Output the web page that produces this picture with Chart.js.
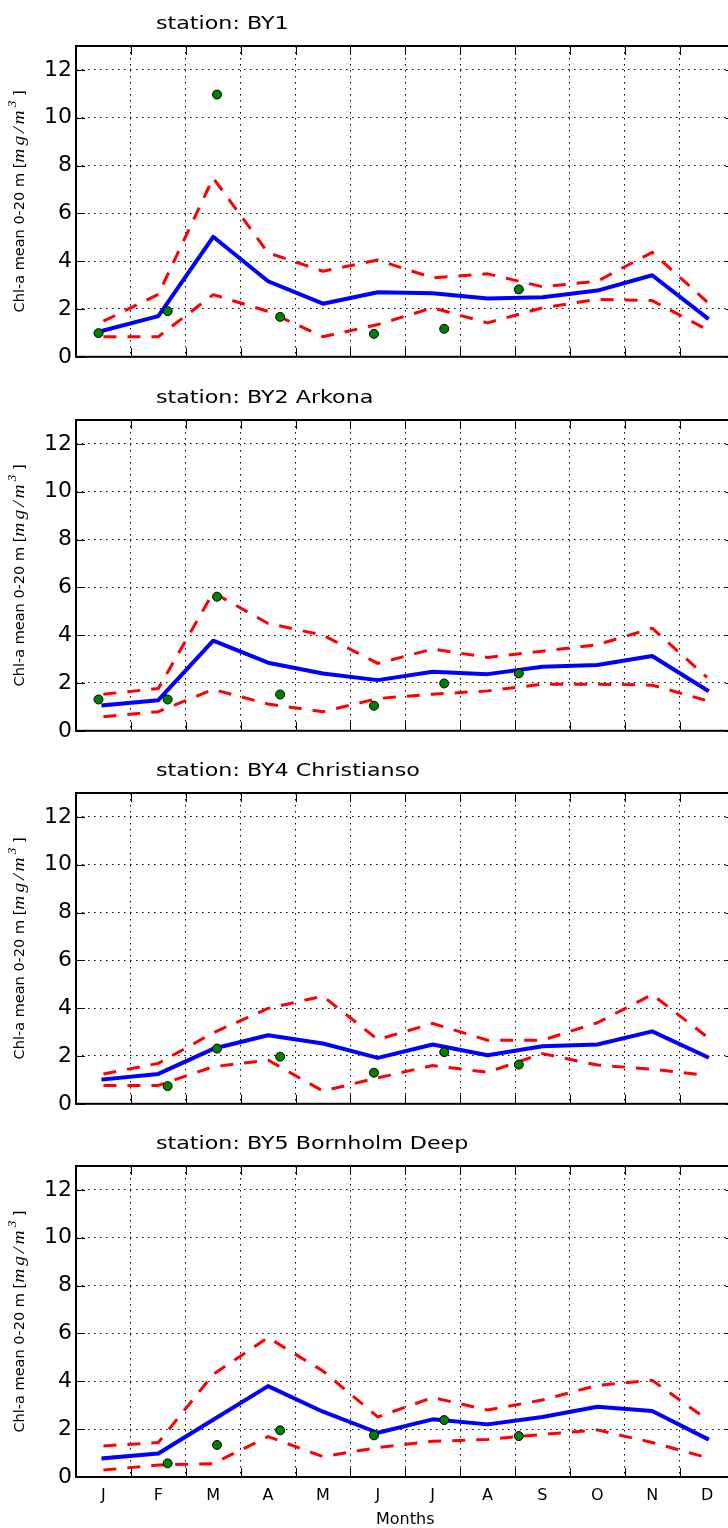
<!DOCTYPE html>
<html>
<head>
<meta charset="utf-8">
<script src="https://cdn.jsdelivr.net/npm/chart.js@4.4.1/dist/chart.umd.min.js"></script>
<style>
  html, body { margin: 0; padding: 0; background: #fff; overflow: hidden; width: 728px; height: 1528px; }
  canvas { position: absolute; left: 0; }
</style>
</head>
<body>
<canvas id="c0" width="740" height="374" style="top:0px"></canvas>
<canvas id="c1" width="740" height="374" style="top:374px"></canvas>
<canvas id="c2" width="740" height="374" style="top:747px"></canvas>
<canvas id="c3" width="740" height="408" style="top:1120px"></canvas>
<script>
// month labels sit in the middle of each month, grid lines on month boundaries
const months = ['J', 'F', 'M', 'A', 'M', 'J', 'J', 'A', 'S', 'O', 'N', 'D'];
const monthPos = [0.5, 1.5, 2.5, 3.5, 4.5, 5.5, 6.5, 7.5, 8.5, 9.5, 10.5, 11.5];
const obsPos = [0.41, 1.67, 2.57, 3.72, 5.43, 6.71, 8.07];
const yTickValues = [0, 2, 4, 6, 8, 10, 12];

const stationTitles = ['station: BY1', 'station: BY2 Arkona', 'station: BY4 Christianso', 'station: BY5 Bornholm Deep'];

// BY1
const by1Mean  = [1.10, 1.70, 5.02, 3.16, 2.22, 2.70, 2.66, 2.44, 2.49, 2.77, 3.41, 1.63];
const by1Upper = [1.49, 2.61, 7.48, 4.35, 3.58, 4.05, 3.30, 3.47, 2.93, 3.16, 4.37, 2.30];
const by1Lower = [0.84, 0.84, 2.60, 1.90, 0.84, 1.35, 2.05, 1.42, 2.05, 2.40, 2.35, 1.14];
const by1Obs   = [0.99, 1.91, 10.97, 1.67, 0.96, 1.17, 2.82];

// BY2 Arkona
const by2Mean  = [1.07, 1.28, 3.77, 2.85, 2.40, 2.12, 2.47, 2.37, 2.68, 2.75, 3.13, 1.70];
const by2Upper = [1.53, 1.77, 5.78, 4.49, 4.00, 2.82, 3.42, 3.07, 3.33, 3.60, 4.29, 2.23];
const by2Lower = [0.59, 0.80, 1.73, 1.12, 0.80, 1.35, 1.53, 1.67, 1.95, 1.95, 1.91, 1.26];
const by2Obs   = [1.31, 1.31, 5.61, 1.52, 1.05, 1.98, 2.40];

// BY4 Christianso
const by4Mean  = [1.02, 1.25, 2.30, 2.87, 2.52, 1.92, 2.48, 2.03, 2.41, 2.48, 3.03, 1.96];
const by4Upper = [1.25, 1.69, 2.97, 3.99, 4.50, 2.69, 3.36, 2.66, 2.66, 3.39, 4.57, 2.80];
const by4Lower = [0.77, 0.77, 1.55, 1.83, 0.53, 1.09, 1.60, 1.32, 2.10, 1.62, 1.45, 1.19];
const by4Obs   = [null, 0.74, 2.31, 1.97, 1.30, 2.16, 1.64];

// BY5 Bornholm Deep
const by5Mean  = [0.78, 0.98, 2.39, 3.80, 2.73, 1.85, 2.41, 2.20, 2.51, 2.94, 2.76, 1.60];
const by5Upper = [1.30, 1.44, 4.29, 5.83, 4.43, 2.51, 3.32, 2.80, 3.22, 3.83, 4.04, 2.41];
const by5Lower = [0.29, 0.50, 0.56, 1.69, 0.85, 1.23, 1.49, 1.57, 1.78, 1.97, 1.44, 0.81];
const by5Obs   = [null, 0.57, 1.34, 1.95, 1.74, 2.38, 1.71];

Chart.defaults.font.family = '"DejaVu Sans", sans-serif';
Chart.defaults.color = '#000';

const tickLen = 9;

// frame, inward ticks, station title and y label (matplotlib look)
const panelDecor = {
    id: 'panelDecor',
    afterDraw(chart, args, opts) {
        const ctx = chart.ctx;
        const a = chart.chartArea;
        const x = chart.scales.x;
        const y = chart.scales.y;

        ctx.save();
        ctx.strokeStyle = '#000';
        ctx.lineWidth = 1;
        ctx.beginPath();
        for (let v = 0; v <= 12; v++) {
            const px = Math.round(x.getPixelForValue(v)) + 0.5;
            ctx.moveTo(px, a.bottom); ctx.lineTo(px, a.bottom - tickLen);
            ctx.moveTo(px, a.top); ctx.lineTo(px, a.top + tickLen);
        }
        yTickValues.forEach(v => {
            const py = Math.round(y.getPixelForValue(v)) + 0.5;
            ctx.moveTo(a.left, py); ctx.lineTo(a.left + tickLen, py);
            ctx.moveTo(a.right, py); ctx.lineTo(a.right - tickLen, py);
        });
        ctx.stroke();

        ctx.lineWidth = 2;
        ctx.strokeRect(a.left, a.top, a.right - a.left, a.bottom - a.top);

        // title (the original text is rendered a bit wide)
        ctx.fillStyle = '#000';
        ctx.font = '18.5px "DejaVu Sans"';
        ctx.textAlign = 'left';
        ctx.textBaseline = 'alphabetic';
        ctx.translate(156, a.top - 17.5);
        ctx.scale(1.2, 1);
        ctx.fillText(opts.title, 0, 0);
        ctx.restore();

        // y label, rotated; the unit part is math italic, loosely spaced
        const parts = [
            { t: 'Chl-a mean 0-20 m [', f: '14.5px "DejaVu Sans"', dy: 0, sx: 1, ls: 0 },
            { t: 'mg/m', f: 'italic 17px "Liberation Serif"', dy: 0, sx: 1.15, ls: 3 },
            { t: '3', f: 'italic 12px "Liberation Serif"', dy: -8, sx: 1.1, ls: 0 },
            { t: ' ]', f: '14.5px "DejaVu Sans"', dy: 0, sx: 1, ls: 0 }
        ];
        ctx.save();
        let total = 0;
        parts.forEach(p => {
            ctx.font = p.f;
            p.w = ctx.measureText(p.t).width * p.sx + p.ls * p.t.length;
            total += p.w;
        });
        ctx.translate(23.5, (a.top + a.bottom) / 2);
        ctx.rotate(-Math.PI / 2);
        ctx.fillStyle = '#000';
        ctx.textAlign = 'left';
        ctx.textBaseline = 'alphabetic';
        let cx = -total / 2;
        parts.forEach(p => {
            ctx.font = p.f;
            let gx = cx;
            for (const ch of p.t) {
                ctx.save();
                ctx.translate(gx, p.dy);
                ctx.scale(p.sx, 1);
                ctx.fillText(ch, 0, 0);
                ctx.restore();
                gx += ctx.measureText(ch).width * p.sx + p.ls;
            }
            cx += p.w;
        });
        ctx.restore();
    }
};

function toXY(xs, ys) {
    return xs.map((v, i) => ({ x: v, y: ys[i] }));
}

function makePanel(id, title, mean, upper, lower, obs, bottomAxis) {
    new Chart(document.getElementById(id), {
        type: 'line',
        data: {
            datasets: [
                {
                    label: 'obs',
                    data: toXY(obsPos, obs),
                    showLine: false,
                    pointRadius: 4.5,
                    pointBackgroundColor: '#008000',
                    pointBorderColor: '#000',
                    pointBorderWidth: 1
                },
                {
                    label: 'upper',
                    data: toXY(monthPos, upper),
                    borderColor: '#ff0000',
                    borderWidth: 3,
                    borderDash: [13, 11],
                    borderCapStyle: 'butt',
                    borderJoinStyle: 'round',
                    pointRadius: 0,
                    tension: 0
                },
                {
                    label: 'lower',
                    data: toXY(monthPos, lower),
                    borderColor: '#ff0000',
                    borderWidth: 3,
                    borderDash: [13, 11],
                    borderCapStyle: 'butt',
                    borderJoinStyle: 'round',
                    pointRadius: 0,
                    tension: 0
                },
                {
                    label: 'mean',
                    data: toXY(monthPos, mean),
                    borderColor: '#0000ff',
                    borderWidth: 4,
                    borderCapStyle: 'square',
                    borderJoinStyle: 'round',
                    pointRadius: 0,
                    tension: 0
                }
            ]
        },
        options: {
            responsive: false,
            animation: false,
            events: [],
            layout: { padding: { top: 46, right: 4, left: 0, bottom: 0 } },
            plugins: {
                legend: { display: false },
                tooltip: { enabled: false },
                panelDecor: { title: title }
            },
            scales: {
                x: {
                    type: 'linear',
                    min: 0,
                    max: 12,
                    afterBuildTicks: s => { s.ticks = monthPos.map(v => ({ value: v })); },
                    afterFit: s => { s.height = bottomAxis ? 51 : 17; },
                    grid: { offset: true, color: '#000', lineWidth: 1, drawTicks: false },
                    border: { display: false, dash: [1.5, 4.5] },
                    ticks: {
                        display: bottomAxis,
                        autoSkip: false,
                        maxRotation: 0,
                        padding: 9,
                        font: { size: 16 },
                        callback: (v, i) => months[i]
                    },
                    title: {
                        display: bottomAxis,
                        text: 'Months',
                        font: { size: 16, lineHeight: 1 },
                        padding: 0
                    }
                },
                y: {
                    type: 'linear',
                    min: 0,
                    max: 13,
                    afterBuildTicks: s => { s.ticks = yTickValues.map(v => ({ value: v })); },
                    afterFit: s => { s.width = 76; },
                    grid: { color: '#000', lineWidth: 1, drawTicks: false },
                    border: { display: false, dash: [1.5, 4.5] },
                    ticks: {
                        padding: 4,
                        font: { size: 22 },
                        callback: v => v
                    }
                }
            }
        },
        plugins: [panelDecor]
    });
}

makePanel('c0', stationTitles[0], by1Mean, by1Upper, by1Lower, by1Obs, false);
makePanel('c1', stationTitles[1], by2Mean, by2Upper, by2Lower, by2Obs, false);
makePanel('c2', stationTitles[2], by4Mean, by4Upper, by4Lower, by4Obs, false);
makePanel('c3', stationTitles[3], by5Mean, by5Upper, by5Lower, by5Obs, true);
</script>
</body>
</html>
